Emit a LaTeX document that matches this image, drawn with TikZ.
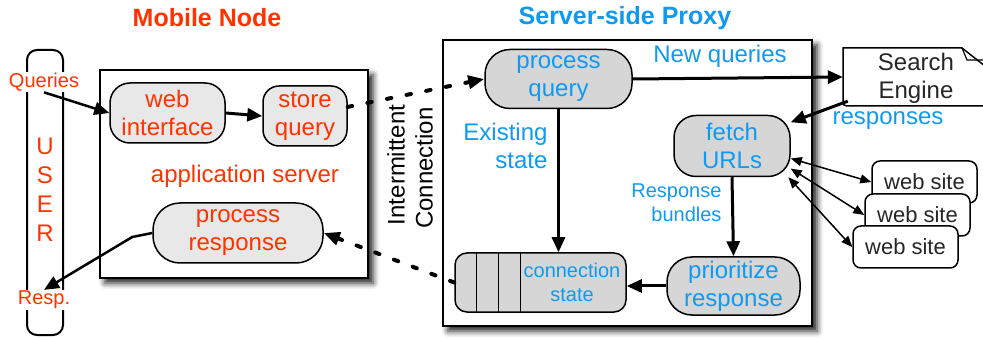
\documentclass[tikz,border=0pt]{standalone}
\usepackage{fontspec}
\setmainfont{Liberation Sans}
\usetikzlibrary{arrows.meta,shadows.blur,calc}

\definecolor{mobred}{RGB}{255,51,0}
\definecolor{proxyblue}{RGB}{16,153,240}
\definecolor{pillgray}{RGB}{214,214,214}
\definecolor{pilllight}{RGB}{232,232,232}

\begin{document}
\begin{tikzpicture}[x=1pt,y=-1pt,
  big/.style={font=\fontsize{24}{28}\selectfont},
  small/.style={font=\fontsize{20}{24}\selectfont},
  title/.style={font=\bfseries\fontsize{25}{30}\selectfont},
  box/.style={draw, line width=2pt, fill=white, inner sep=0pt,
    blur shadow={shadow xshift=5pt, shadow yshift=-5pt, shadow blur radius=6pt, shadow opacity=90}},
  pill/.style={draw, line width=1.5pt, align=center, inner sep=0pt, big},
  site/.style={draw, line width=1.5pt, fill=white, rounded corners=8pt,
    minimum width=105pt, minimum height=42pt, inner sep=0pt,
    font=\fontsize{22}{26}\selectfont, text=black!85},
  flow/.style={line width=3pt, -{Triangle[length=15pt,width=13pt]}},
  link/.style={line width=4pt, dash pattern=on 4.5pt off 15.5pt, line cap=round,
    -{Triangle[length=16pt,width=13pt]}},
  siteline/.style={line width=1.5pt,
    {Triangle[length=11pt,width=9pt]}-{Triangle[length=11pt,width=9pt]}}
]
\useasboundingbox (0,0) rectangle (983,339);
\clip (0,0) rectangle (983,339);

% titles
\node[title, text=mobred] (tmobile) at (207,18) {Mobile Node};
\node[title, text=proxyblue] (tproxy) at (625,18) {Server-side Proxy};

% user column
\node[draw, line width=2pt, rounded corners=10pt, minimum width=36pt,
  minimum height=285pt, inner sep=0pt] (user) at (45,192.5) {};
\node[text=mobred, align=center, font=\fontsize{24}{29}\selectfont] (userlbl) at (45,190) {U\\S\\E\\R};
\node[fill=white, inner sep=1pt, text=mobred, font=\fontsize{20}{24}\selectfont] (queries) at (44,82) {Queries};
\node[fill=white, inner sep=1pt, text=mobred, font=\fontsize{20}{24}\selectfont] (resp) at (44,300) {Resp.};

% mobile node
\node[box, minimum width=268pt, minimum height=208pt] (mobile) at (234,174) {};
\node[pill, fill=pilllight, text=mobred, rounded corners=20pt,
  minimum width=115pt, minimum height=60pt] (webif) at (167.5,113) {web\\interface};
\node[pill, fill=pilllight, text=mobred, rounded corners=16pt,
  minimum width=84pt, minimum height=60pt] (storeq) at (305,116) {store\\query};
\node[big, text=mobred] (appsrv) at (245,176) {application server};
\node[pill, fill=pilllight, text=mobred, rounded corners=27pt,
  minimum width=170pt, minimum height=60pt] (procresp) at (238,233) {process\\response};

% link label
\node[big, rotate=90] (interm) at (396,165) {Intermittent};
\node[big, rotate=90] (conn) at (424,168) {Connection};

% proxy
\node[box, minimum width=369pt, minimum height=286pt] (proxy) at (627.5,183) {};
\node[pill, fill=pillgray, text=proxyblue, rounded corners=25pt,
  minimum width=147pt, minimum height=59pt] (procq) at (558.5,79) {process\\query};
\node[big, text=proxyblue] (newq) at (720,56) {New queries};
\node[big, text=proxyblue, align=right, anchor=east] (exist) at (551,146) {Existing\\state};
\node[pill, fill=pillgray, text=proxyblue, rounded corners=22pt,
  minimum width=116pt, minimum height=61pt] (fetch) at (732,146) {fetch\\URLs};
\node[small, text=proxyblue, align=right, anchor=east] (bund) at (725,203) {Response\\bundles};
\node[pill, fill=pillgray, text=proxyblue, rounded corners=25pt,
  minimum width=133pt, minimum height=58pt] (prio) at (733.5,286) {prioritize\\response};
\node[draw, line width=1.5pt, fill=pillgray, rounded corners=12pt,
  minimum width=171pt, minimum height=59pt, inner sep=0pt] (cs) at (540.5,282.5) {};
\foreach \dx in {22,44,66}
  \draw[line width=1.2pt] ($(cs.north west)+(\dx,0)$) -- ($(cs.south west)+(\dx,0)$);
\node[small, text=proxyblue, align=center] (cslbl) at (572,282) {connection\\state};

% search engine document
\node[minimum width=140pt, minimum height=58pt, inner sep=0pt] (search) at (913,77) {};
\draw[line width=1.5pt, fill=white] (990,106) -- (851,106) .. controls (843,106) .. (843,98)
  -- (843,48) -- (962,48) -- (990,70);
\draw[line width=1.2pt] (962,48) -- (967,60) -- (990,60);
\node[big, text=black!85, align=center] (searchlbl) at (916,78) {Search\\Engine};
\node[big, text=proxyblue] (resps) at (888,121) {responses};

% web sites
\node[site] (ws1) at (924.5,182) {web site};
\node[site] (ws2) at (917.5,215) {web site};
\node[site] (ws3) at (905.5,247) {web site};

% connectors
\draw[flow, line width=2.5pt] (queries.south) -- (webif.west);
\draw[flow] (webif.east) -- (storeq.west);
\draw[flow, line width=2.5pt] (procresp.west) -- ++(-20,4) -- (resp.north);
\draw[link] (storeq.12) -- (procq.west);
\draw[link] (cs.west) -- (procresp.east);
\draw[flow] (procq.east) -- (search.west);
\draw[flow] (procq.south) -- (procq.south |- cs.north);
\draw[flow] (fetch.south) -- (prio.north);
\draw[flow] (prio.west) -- (prio.west -| cs.east);
\draw[flow] ($(search.south west)+(5,-5)$) -- (fetch.22);
\draw[siteline] (fetch.-12) -- (ws1.west);
\draw[siteline] (fetch.-21) -- (ws2.west);
\draw[siteline] (fetch.-29) -- (ws3.west);
\end{tikzpicture}
\end{document}
